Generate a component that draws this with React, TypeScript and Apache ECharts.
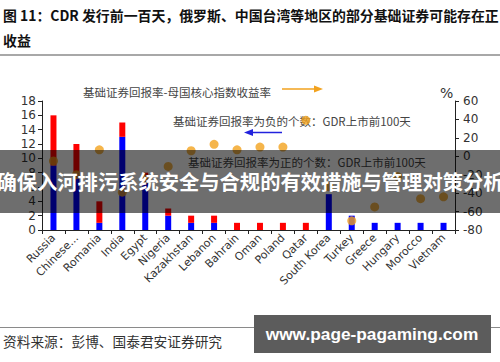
import React, { useEffect, useRef } from "react";
import * as echarts from "echarts";

const categories = ["Russia", "Chinese...", "Romania", "India", "Egypt", "Nigeria", "Kazakhstan", "Lebanon", "Bahrain", "Oman", "Poland", "Qatar", "South Korea", "Turkey", "Greece", "Hungary", "Morocco", "Vietnam"];
const negativeCount = [9, 8, 1, 13, 7, 2, 1, 1, 0, 0, 0, 0, 5, 2, 1, 1, 1, 1];
const positiveCount = [7, 4, 3, 2, 1, 1, 1, 1, 1, 1, 1, 1, 0, 0, 0, 0, 0, 0];
const excessReturn = [-5, -20, 7, -39, -25, -11, 6, 13, 7, 10, 10, 39, -33, -70, -55, -22, -46, -44];
const leftTicks = { min: 0, max: 18, interval: 2 };
const rightTicks = { min: -80, max: 60, interval: 20 };

const titleLine1 = "图 11：CDR 发行前一百天，俄罗斯、中国台湾等地区的部分基础证券可能存在正";
const titleLine2 = "收益";
const legendExcess = "基础证券回报率-母国核心指数收益率";
const legendNeg = "基础证券回报率为负的个数：GDR上市前100天";
const legendPos = "基础证券回报率为正的个数：GDR上市前100天";
const sourceText = "资料来源：彭博、国泰君安证券研究";
const bannerText = "确保入河排污系统安全与合规的有效措施与管理对策分析";
const watermarkText = "www.page-pagaming.com";

const CJK = '"Noto Sans CJK SC", "Noto Sans", sans-serif';
const LAT = '"DejaVu Sans", "Noto Sans", sans-serif';

export default function App() {
  const ref = useRef<HTMLDivElement>(null);
  useEffect(() => {
    if (!ref.current) return;
    const chart = echarts.init(ref.current, null, { renderer: "svg" });
    const orange = "#F2A21E";
    const option: any = {
      animation: false,
      backgroundColor: "#ffffff",
      grid: { left: 42, right: 45, top: 101, bottom: 132 },
      xAxis: {
        type: "category",
        data: categories,
        axisLine: { lineStyle: { color: "#222", width: 1 } },
        axisTick: { show: true, length: 4, lineStyle: { color: "#222" } },
        axisLabel: { rotate: 45, fontSize: 11, color: "#333", fontFamily: LAT, margin: 6, interval: 0 },
      },
      yAxis: [
        {
          type: "value",
          min: leftTicks.min,
          max: leftTicks.max,
          interval: leftTicks.interval,
          axisLine: { show: true, lineStyle: { color: "#222" } },
          axisTick: { show: true, length: 4, lineStyle: { color: "#222" } },
          axisLabel: { fontSize: 12, color: "#333", fontFamily: LAT, margin: 6 },
          splitLine: { show: false },
        },
        {
          type: "value",
          position: "right",
          min: rightTicks.min,
          max: rightTicks.max,
          interval: rightTicks.interval,
          axisLine: { show: true, lineStyle: { color: "#222" } },
          axisTick: { show: true, length: 4, lineStyle: { color: "#222" } },
          axisLabel: { fontSize: 12, color: "#333", fontFamily: LAT, margin: 8 },
          splitLine: { show: false },
        },
      ],
      series: [
        { type: "bar", stack: "cnt", data: negativeCount, barWidth: 6, itemStyle: { color: "#0000FF" }, yAxisIndex: 0 },
        { type: "bar", stack: "cnt", data: positiveCount, barWidth: 6, itemStyle: { color: "#FF0000" }, yAxisIndex: 0 },
        { type: "scatter", data: excessReturn, yAxisIndex: 1, symbolSize: 9, itemStyle: { color: orange }, z: 5 },
      ],
      graphic: [
        { type: "text", left: 3, top: 8, style: { text: titleLine1, font: `bold 13.9px ${CJK}`, fill: "#111" } },
        { type: "text", left: 3, top: 33, style: { text: titleLine2, font: `bold 13.9px ${CJK}`, fill: "#111" } },
        { type: "rect", shape: { x: 0, y: 54, width: 500, height: 2 }, style: { fill: "#a8a8a8" } },
        { type: "text", x: 83, y: 92, style: { text: legendExcess, font: `11.5px ${CJK}`, fill: "#444", verticalAlign: "middle" } },
        { type: "line", shape: { x1: 282, y1: 89, x2: 318, y2: 89 }, style: { stroke: orange, lineWidth: 1.5 } },
        { type: "polygon", shape: { points: [[323, 89], [314, 85.5], [314, 92.5]] }, style: { fill: orange } },
        { type: "text", x: 173, y: 121, style: { text: legendNeg, font: `11.5px ${CJK}`, fill: "#444", verticalAlign: "middle" } },
        { type: "line", shape: { x1: 250, y1: 132.5, x2: 282, y2: 132.5 }, style: { stroke: "#2222dd", lineWidth: 1.5 } },
        { type: "polygon", shape: { points: [[244, 132.5], [253, 129], [253, 136]] }, style: { fill: "#2222dd" } },
        { type: "text", x: 188, y: 162, style: { text: legendPos, font: `11.5px ${CJK}`, fill: "#444", verticalAlign: "middle" } },
        { type: "text", x: 440, y: 93, style: { text: "%", font: `14px ${LAT}`, fill: "#333", verticalAlign: "middle" } },
        { type: "rect", shape: { x: 0, y: 327, width: 500, height: 1 }, style: { fill: "#8a8a8a" } },
        { type: "text", x: 3, y: 341, style: { text: sourceText, font: `13.7px ${CJK}`, fill: "#333", verticalAlign: "middle" } },
        { type: "rect", z: 100, shape: { x: 0, y: 150, width: 500, height: 63 }, style: { fill: "rgba(0,0,0,0.57)" } },
        { type: "text", z: 101, x: 250, y: 181, style: { text: bannerText, font: `bold 20.3px ${CJK}`, fill: "#ffffff", align: "center", verticalAlign: "middle" } },
        { type: "rect", z: 100, shape: { x: 254, y: 315, width: 237, height: 38 }, style: { fill: "#5c5c5c" } },
        { type: "text", z: 101, x: 372, y: 334, style: { text: watermarkText, font: `bold 17.3px "Liberation Sans", Arial, sans-serif`, fill: "#ffffff", align: "center", verticalAlign: "middle" } },
      ],
    };
    chart.setOption(option);
    return () => chart.dispose();
  }, []);
  return <div ref={ref} style={{ position: "fixed", left: 0, top: 0, width: 500, height: 362 }} />;
}
